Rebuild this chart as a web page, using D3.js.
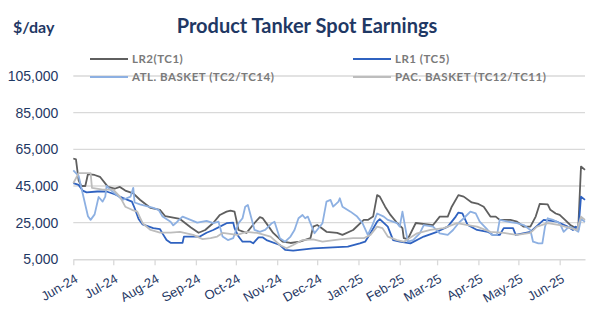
<!DOCTYPE html>
<html>
<head>
<meta charset="utf-8">
<script src="https://cdn.jsdelivr.net/npm/d3@7"></script>
<style>
  body { margin: 0; background: #fff; }
  svg { display: block; font-family: Lato, "Open Sans", sans-serif; }
</style>
</head>
<body>
<svg class="root" width="600" height="329"></svg>
<script>
var seriesNames = ["LR2(TC1)", "LR1 (TC5)", "ATL. BASKET (TC2/TC14)", "PAC. BASKET (TC12/TC11)"];
var yTicks = [5000, 25000, 45000, 65000, 85000, 105000];

var lr2Dates = ["2024-06-01","2024-06-03","2024-06-05","2024-06-07","2024-06-10","2024-06-12","2024-06-17","2024-06-21","2024-06-27","2024-07-02","2024-07-06","2024-07-10","2024-07-16","2024-07-21","2024-07-29","2024-08-05","2024-08-09","2024-08-20","2024-08-28","2024-09-03","2024-09-08","2024-09-14","2024-09-19","2024-09-24","2024-09-27","2024-09-30","2024-10-03","2024-10-09","2024-10-15","2024-10-19","2024-10-21","2024-10-25","2024-10-29","2024-11-05","2024-11-11","2024-11-18","2024-11-26","2024-11-28","2024-12-01","2024-12-03","2024-12-08","2024-12-16","2024-12-20","2024-12-28","2025-01-05","2025-01-08","2025-01-12","2025-01-15","2025-01-17","2025-01-21","2025-01-25","2025-01-30","2025-02-03","2025-02-04","2025-02-07","2025-02-13","2025-02-26","2025-03-03","2025-03-09","2025-03-12","2025-03-17","2025-03-21","2025-03-27","2025-04-01","2025-04-05","2025-04-10","2025-04-14","2025-04-17","2025-04-25","2025-04-30","2025-05-05","2025-05-10","2025-05-14","2025-05-17","2025-05-23","2025-05-25","2025-05-29","2025-06-01","2025-06-05","2025-06-09","2025-06-13","2025-06-15","2025-06-17","2025-06-20"];
var lr2Values = [60000,59500,48000,45000,45000,51500,51000,50000,44500,43500,44500,42500,41000,37500,33000,32000,28500,27000,22500,19500,21000,24800,29200,31000,31600,31000,21000,19400,24800,28000,27500,23500,19400,14600,13900,14600,16600,22800,23700,22800,20000,19400,18300,21000,26500,26500,28300,40000,39200,33700,29200,24800,22000,16600,16000,24800,23700,28300,28300,33700,40000,39200,36000,35200,33700,28300,28300,26500,26500,25500,22800,22800,28300,35200,35000,32000,30000,29200,26500,23700,22000,23000,55600,53800];

var lr1Dates = ["2024-06-01","2024-06-05","2024-06-08","2024-06-11","2024-06-19","2024-06-26","2024-07-02","2024-07-08","2024-07-15","2024-07-17","2024-07-20","2024-07-23","2024-07-31","2024-08-05","2024-08-07","2024-08-10","2024-08-13","2024-08-22","2024-08-23","2024-09-04","2024-09-09","2024-09-14","2024-09-19","2024-09-24","2024-09-29","2024-09-30","2024-10-03","2024-10-06","2024-10-12","2024-10-14","2024-10-18","2024-10-21","2024-10-24","2024-11-03","2024-11-07","2024-11-13","2024-11-28","2024-12-24","2025-01-02","2025-01-06","2025-01-10","2025-01-15","2025-01-17","2025-01-23","2025-01-27","2025-02-01","2025-02-09","2025-02-19","2025-03-01","2025-03-09","2025-03-15","2025-03-17","2025-03-20","2025-03-24","2025-03-31","2025-04-08","2025-04-12","2025-04-17","2025-04-20","2025-04-27","2025-04-29","2025-05-10","2025-05-20","2025-05-30","2025-06-07","2025-06-11","2025-06-13","2025-06-15","2025-06-17","2025-06-20"];
var lr1Values = [46500,45600,42500,41500,42000,42000,40500,38500,36500,33000,27000,24000,22000,21500,19000,15500,14000,14000,17400,17400,19500,21000,22800,24700,25000,22000,17400,14600,14600,13700,17000,17000,15500,12800,10100,9700,11000,11900,13700,14600,19200,25500,26900,22800,15500,14600,13700,17400,20000,22800,28300,30500,30000,23700,21000,20000,18300,18300,22000,22000,18300,20000,26500,25500,22800,21000,22800,21000,39200,37400];

var atlDates = ["2024-06-01","2024-06-05","2024-06-08","2024-06-12","2024-06-14","2024-06-17","2024-06-20","2024-06-23","2024-06-25","2024-06-26","2024-06-29","2024-07-02","2024-07-08","2024-07-11","2024-07-14","2024-07-16","2024-07-17","2024-07-21","2024-07-26","2024-07-31","2024-08-04","2024-08-07","2024-08-13","2024-08-15","2024-08-18","2024-08-22","2024-08-28","2024-09-02","2024-09-09","2024-09-14","2024-09-18","2024-09-21","2024-09-25","2024-09-29","2024-10-03","2024-10-06","2024-10-08","2024-10-10","2024-10-13","2024-10-15","2024-10-19","2024-10-23","2024-10-28","2024-10-30","2024-11-03","2024-11-07","2024-11-11","2024-11-14","2024-11-17","2024-11-20","2024-11-22","2024-11-24","2024-11-27","2024-11-29","2024-12-05","2024-12-08","2024-12-11","2024-12-13","2024-12-17","2024-12-18","2024-12-20","2024-12-26","2024-12-31","2025-01-04","2025-01-08","2025-01-11","2025-01-15","2025-01-20","2025-01-23","2025-01-30","2025-02-01","2025-02-03","2025-02-07","2025-02-11","2025-02-16","2025-02-19","2025-02-26","2025-03-03","2025-03-09","2025-03-13","2025-03-17","2025-03-21","2025-03-26","2025-03-30","2025-04-02","2025-04-08","2025-04-11","2025-04-15","2025-04-17","2025-04-23","2025-04-30","2025-05-05","2025-05-10","2025-05-12","2025-05-16","2025-05-19","2025-05-21","2025-05-23","2025-05-27","2025-06-01","2025-06-04","2025-06-08","2025-06-11","2025-06-15","2025-06-17","2025-06-20"];
var atlValues = [53500,50500,41000,28500,26500,29500,39000,36500,39200,45000,42900,41000,37400,38300,39200,44000,36000,35000,34000,33000,32000,28300,25500,23500,25500,28300,26500,25000,26000,24700,25500,17400,15500,16500,24700,27400,33700,34600,26500,21000,20000,21000,24700,25500,16500,14600,17400,21000,27400,29200,27400,28300,22800,19200,24700,36500,37400,33700,36500,38300,33700,31000,28300,24700,18300,22800,30000,28300,26500,24700,22800,31000,14600,15500,19200,23700,22800,19200,18300,21000,24700,27400,31000,30000,25500,21000,18300,18300,26500,25500,24700,23700,21000,14600,13700,13700,22800,27400,26500,24700,20000,22800,22000,20000,27000,25500];

var pacDates = ["2024-06-01","2024-06-05","2024-06-14","2024-06-15","2024-06-23","2024-07-01","2024-07-06","2024-07-10","2024-07-15","2024-07-19","2024-07-23","2024-07-29","2024-08-05","2024-08-13","2024-08-20","2024-08-30","2024-09-06","2024-09-12","2024-09-17","2024-09-21","2024-10-02","2024-10-09","2024-10-17","2024-10-27","2024-11-03","2024-11-08","2024-11-13","2024-11-20","2024-11-28","2024-12-05","2024-12-18","2024-12-28","2025-01-05","2025-01-10","2025-01-15","2025-01-19","2025-01-23","2025-01-30","2025-02-04","2025-02-14","2025-02-24","2025-03-06","2025-03-16","2025-03-24","2025-03-31","2025-04-10","2025-04-20","2025-04-30","2025-05-10","2025-05-15","2025-05-23","2025-06-01","2025-06-09","2025-06-14","2025-06-17","2025-06-20"];
var pacValues = [46500,52000,52000,44000,43000,43000,39200,33700,32000,31000,24700,21000,19600,19600,20000,18300,16000,16500,17400,19400,18300,20000,19400,17400,12800,11000,12800,15500,15900,14600,15900,16500,16500,18300,22800,22000,17400,15500,14600,19200,21000,22000,24700,23700,22800,20000,19400,18300,19400,22800,24700,23700,22000,21000,28300,26500];

var colors = ["#5f5f5f", "#2f62c0", "#8db0e2", "#bdbdbd"];

var parse = d3.timeParse("%Y-%m-%d");
var series = [
  { name: seriesNames[0], dates: lr2Dates, values: lr2Values },
  { name: seriesNames[1], dates: lr1Dates, values: lr1Values },
  { name: seriesNames[2], dates: atlDates, values: atlValues },
  { name: seriesNames[3], dates: pacDates, values: pacValues }
];

var svg = d3.select(".root");
var navy = "#1f3864";

var x = d3.scaleTime()
    .domain([parse("2024-06-01"), parse("2025-06-20")])
    .range([73.3, 585]);

var y = d3.scaleLinear()
    .domain([5000, 105000])
    .range([259.3, 76]);

// title + unit
svg.append("text")
    .attr("x", 307).attr("y", 33)
    .attr("text-anchor", "middle")
    .attr("fill", navy)
    .style("font-size", "20px").style("font-weight", "bold")
    .text("Product Tanker Spot Earnings");

svg.append("text")
    .attr("x", 13).attr("y", 33)
    .attr("fill", navy)
    .style("font-size", "16px").style("font-weight", "bold")
    .text("$/day");

// gridlines
svg.append("g")
  .selectAll("line")
    .data(yTicks.slice(1))
  .enter().append("line")
    .attr("x1", 73.3).attr("x2", 585)
    .attr("y1", (d) => y(d)).attr("y2", (d) => y(d))
    .attr("stroke", "#d9d9d9").attr("stroke-width", 1.3);

var yAxis = svg.append("g")
    .attr("transform", "translate(73.3,0)")
    .call(d3.axisLeft(y).tickValues(yTicks).tickFormat(d3.format(",")).tickSize(0).tickPadding(15));
yAxis.select(".domain").remove();
yAxis.selectAll("text")
    .attr("fill", navy)
    .style("font-size", "14px");

var xAxis = svg.append("g")
    .attr("transform", "translate(0," + y(5000) + ")")
    .call(d3.axisBottom(x)
      .tickValues(d3.timeMonth.range(parse("2024-06-01"), parse("2025-06-02")))
      .tickFormat(d3.timeFormat("%b-%y"))
      .tickSize(6)
      .tickSizeOuter(0));
xAxis.select(".domain").attr("stroke", "#d9d9d9").attr("stroke-width", 1.5);
xAxis.selectAll(".tick line").attr("stroke", "#d9d9d9").attr("stroke-width", 1.3);
xAxis.selectAll(".tick text")
    .attr("fill", navy)
    .style("font-size", "13px")
    .attr("text-anchor", "end")
    .attr("y", 0).attr("dy", 0)
    .attr("transform", "translate(5,22) rotate(-30)");

// lines
var line = d3.line()
    .x((d) => x(d[0]))
    .y((d) => y(d[1]));

svg.append("g")
  .selectAll("path")
    .data(series)
  .enter().append("path")
    .attr("fill", "none")
    .attr("stroke", (d, i) => colors[i])
    .attr("stroke-width", 1.8)
    .attr("stroke-linejoin", "round")
    .attr("d", (d) => line(d.dates.map((t, i) => [parse(t), d.values[i]])));

// legend
var legendPos = [[90, 59], [353, 59], [90, 77], [353, 77]];
var legend = svg.append("g")
  .selectAll("g")
    .data(series)
  .enter().append("g")
    .attr("transform", (d, i) => "translate(" + legendPos[i][0] + "," + legendPos[i][1] + ")");

legend.append("line")
    .attr("x1", 0).attr("x2", 38)
    .attr("stroke", (d, i) => colors[i])
    .attr("stroke-width", 2);

legend.append("text")
    .attr("x", 42).attr("y", 4)
    .attr("fill", "#7a7a7a")
    .style("font-size", "11.5px").style("font-weight", "bold")
    .style("letter-spacing", "0.5px")
    .text((d) => d.name);
</script>
</body>
</html>
